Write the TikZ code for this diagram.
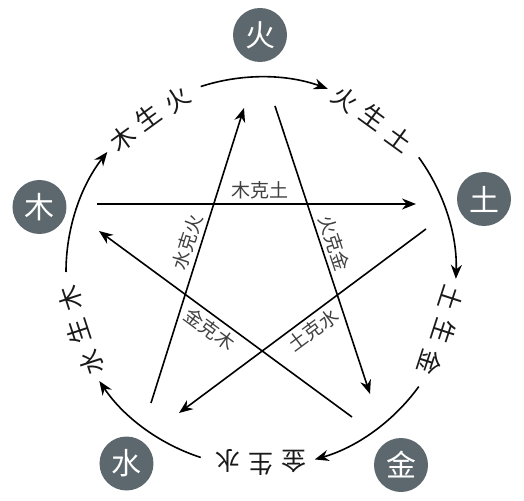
\documentclass[tikz,border=0pt]{standalone}
\usepackage{fontspec}
\newfontfamily\cjk{Noto Sans CJK SC}
\usetikzlibrary{arrows.meta}
\definecolor{xingfill}{RGB}{92,104,110}
\tikzset{
  xing/.style={circle,fill=xingfill,minimum size=54pt,inner sep=0pt,text=white,font=\cjk\fontsize{30}{30}\selectfont},
  sheng/.style={inner sep=0pt,text=black!90,font=\cjk\fontsize{25}{25}\selectfont},
  ke/.style={inner sep=1pt,text=black!75,font=\cjk\fontsize{19}{19}\selectfont},
}
\begin{document}
\begin{tikzpicture}[>={Stealth[length=14pt,width=11pt]},x=1pt,y=1pt,line width=1.6pt]
                \useasboundingbox (-261,-228) rectangle (263,272);

                \node[xing] (huo) at (-1,237) {火};
                \node[xing] (tu) at (223,73) {土};
                \node[xing] (jin) at (140,-193) {金};
                \node[xing] (shui) at (-134.5,-191.5) {水};
                \node[xing] (mu) at (-221.5,65) {木};

                \foreach \a/\x/\y/\z [count=\i] in {126/木/生/火,54/火/生/土,-18/土/生/金,-90/金/生/水,198/水/生/木}{
                    \node[sheng,rotate=\a-90] (sheng\i a) at (\a+10:192) {\x};
                    \node[sheng,rotate=\a-90] (sheng\i b) at (\a:192) {\y};
                    \node[sheng,rotate=\a-90] (sheng\i c) at (\a-10:192) {\z};
                }
                \foreach \b in {90,18,-54,-126,162}
                    \draw[->] (\b+18:195) arc[start angle=\b+18,end angle=\b-20,radius=195];

                \coordinate (mu-out) at (-164,68);
                \coordinate (tu-in) at (155,68);
                \coordinate (huo-out) at (14,166);
                \coordinate (jin-in) at (109,-122);
                \coordinate (tu-out) at (165,43);
                \coordinate (shui-in) at (-82,-141);
                \coordinate (jin-out) at (91,-145);
                \coordinate (mu-in) at (-162,41);
                \coordinate (shui-out) at (-110,-131);
                \coordinate (huo-in) at (-17,164);

                \draw[->] (mu-out) -- node[ke,above=3pt,pos=0.51] (muketu) {木克土} (tu-in);
                \draw[->] (huo-out) -- node[ke,sloped,above=3pt,pos=0.49] (huokejin) {火克金} (jin-in);
                \draw[->] (tu-out) -- node[ke,sloped,below=3pt,pos=0.49] (tukeshui) {土克水} (shui-in);
                \draw[->] (jin-out) -- node[ke,sloped,below=3pt,pos=0.53] (jinkemu) {金克木} (mu-in);
                \draw[->] (shui-out) -- node[ke,sloped,above=3pt,pos=0.53] (shuikehuo) {水克火} (huo-in);
            \end{tikzpicture}
\end{document}
